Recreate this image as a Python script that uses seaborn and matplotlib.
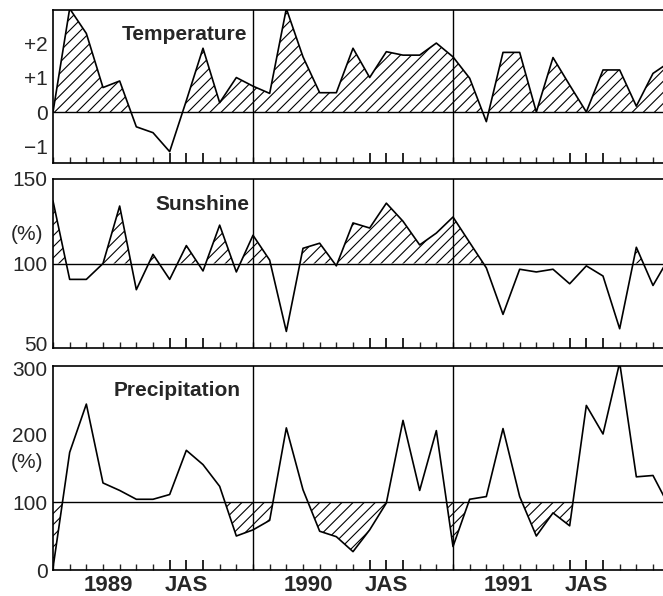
import numpy as np
import pandas as pd
import matplotlib
matplotlib.use("Agg")
import matplotlib.pyplot as plt
import matplotlib.transforms as mtransforms
import seaborn as sns

# ---- data (month index 0 = Dec 1988) ----
months = list(range(38))
temperature = [0.0, 3.0, 2.28, 0.71, 0.9, -0.43, -0.6, -1.15, 0.33, 1.85, 0.27, 1.0,
               0.75, 0.54, 3.0, 1.6, 0.56, 0.56, 1.85, 1.0, 1.75, 1.65, 1.65, 2.0,
               1.6, 0.98, -0.28, 1.73, 1.73, 0.0, 1.58, 0.78, 0.0, 1.22, 1.22, 0.17, 1.12, 1.45]
sunshine = [137, 90.6, 90.6, 100, 134, 84.5, 105.4, 90.6, 110.6, 95.6, 122.7, 95,
            116.7, 102, 59.8, 109, 112, 98.6, 124, 121, 135.7, 125, 111, 118,
            127.5, 112.4, 97.4, 69.9, 96.6, 95, 96.6, 88, 98.6, 92.6, 61.4, 109.6, 87, 104]
precipitation = [3, 173, 244, 128, 117, 104, 104, 111, 176, 155, 123, 50,
                 59, 73, 209, 118, 57, 49, 27, 59, 98.5, 220, 117, 205,
                 34.5, 104, 108, 208, 108, 50, 84, 65, 242, 200, 305, 137, 139, 92]
year_labels = ["1989", "1990", "1991"]
season_label = "JAS"
panel_titles = ["Temperature", "Sunshine", "Precipitation"]
temp_ticks = [-1, 0, 1, 2]
temp_ticklabels = ["\u22121", "0", "+1", "+2"]
sun_ticks = [50, 100, 150]
prec_ticks = [0, 100, 200, 300]

df = pd.DataFrame({"month": months, "temperature": temperature,
                   "sunshine": sunshine, "precipitation": precipitation})

sns.set_style("white")
plt.rcParams["font.family"] = ["Liberation Sans", "DejaVu Sans"]
plt.rcParams["hatch.linewidth"] = 0.8
plt.rcParams["hatch.color"] = "black"

W, H = 663, 596
fig = plt.figure(figsize=(W / 100, H / 100), dpi=100)
fig.patch.set_facecolor("white")


def add_ax(top_px, bottom_px):
    return fig.add_axes([53 / W, 1 - bottom_px / H, 1 - 53 / W, (bottom_px - top_px) / H])


ax1 = add_ax(10, 163)
ax2 = add_ax(179, 348)
ax3 = add_ax(366, 570)

x = np.array(months, dtype=float)
specs = [
    (ax1, "temperature", 0, "above", (-1.48, 2.96)),
    (ax2, "sunshine", 100, "above", (50, 150)),
    (ax3, "precipitation", 100, "below", (0, 300)),
]

for ax, col, base, side, ylim in specs:
    y = df[col].to_numpy(dtype=float)
    where = y >= base if side == "above" else y <= base
    ax.fill_between(x, y, base, where=where, interpolate=True, facecolor="none",
                    edgecolor="black", hatch="///", linewidth=0, zorder=1)
    sns.lineplot(data=df, x="month", y=col, ax=ax, color="black", linewidth=1.2,
                 zorder=3, legend=False)
    ax.axhline(base, color="black", linewidth=1.0, zorder=2)
    for v in (12, 24):
        ax.axvline(v, color="black", linewidth=1.0, zorder=2)
    ax.set_xlim(0, 36.6)
    ax.set_ylim(*ylim)
    ax.set_xlabel("")
    ax.set_ylabel("")
    for s in ("left", "top", "bottom"):
        ax.spines[s].set_visible(True)
        ax.spines[s].set_color("black")
        ax.spines[s].set_linewidth(1.2)
    ax.spines["right"].set_visible(False)
    ax.set_xticks(range(0, 37), minor=True)
    ax.set_xticks([m for y0 in (0, 12, 24) for m in (y0 + 7, y0 + 8, y0 + 9)])
    ax.tick_params(axis="x", which="minor", direction="in", length=4, width=1.0,
                   bottom=True, top=False, labelbottom=False)
    ax.tick_params(axis="x", which="major", direction="in", length=7, width=1.4,
                   bottom=True, top=False, labelbottom=False)
    ax.tick_params(axis="y", length=0, pad=4, labelsize=15)
    ax.set_facecolor("white")

ax1.set_yticks(temp_ticks)
ax1.set_yticklabels(temp_ticklabels)
ax2.set_yticks(sun_ticks)
ax2.set_yticklabels([str(t) for t in sun_ticks])
ax3.set_yticks(prec_ticks)
ax3.set_yticklabels([str(t) for t in prec_ticks])

# nudge the two labels that sit at the gap between panels apart
for tick in ax2.yaxis.get_major_ticks():
    if tick.label1.get_text() == "50":
        tick.label1.set_transform(tick.label1.get_transform() +
                                  mtransforms.ScaledTranslation(0, 3 / 72, fig.dpi_scale_trans))
for tick in ax3.yaxis.get_major_ticks():
    if tick.label1.get_text() == "300":
        tick.label1.set_transform(tick.label1.get_transform() +
                                  mtransforms.ScaledTranslation(0, -1.5 / 72, fig.dpi_scale_trans))

# panel titles
title_pos = [(ax1, 185, 34), (ax2, 202, 205), (ax3, 177, 391)]
for (ax, px, py), t in zip(title_pos, panel_titles):
    fig.text(px / W, 1 - py / H, t, ha="center", va="center", fontsize=15,
             fontweight="bold")

# (%) unit labels
for py in (235, 463):
    fig.text(27 / W, 1 - py / H, "(%)", ha="center", va="center", fontsize=15)

# bottom labels
trans = mtransforms.blended_transform_factory(ax3.transData, ax3.transAxes)
for k, yl in enumerate(year_labels):
    ax3.text(12 * k + 3.3, -0.075, yl, transform=trans, ha="center", va="center",
             fontsize=16, fontweight="bold", clip_on=False)
    ax3.text(12 * k + 8, -0.075, season_label, transform=trans, ha="center",
             va="center", fontsize=16, fontweight="bold", clip_on=False)

fig.savefig("out.png", dpi=100, facecolor="white")
